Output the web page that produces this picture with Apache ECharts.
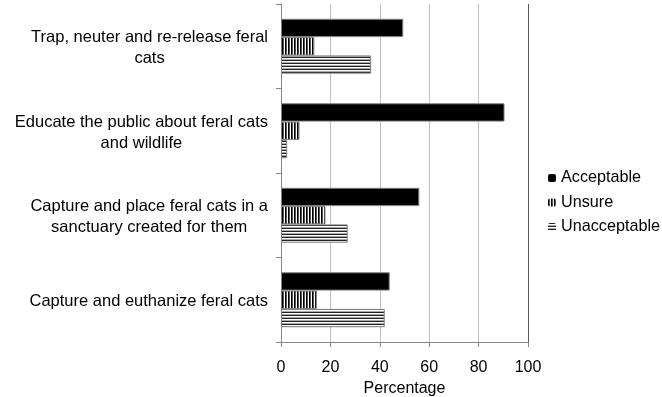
<!DOCTYPE html>
<html>
<head>
<meta charset="utf-8">
<script src="https://cdn.jsdelivr.net/npm/echarts@6/dist/echarts.min.js"></script>
<style>html,body{margin:0;padding:0;background:#fff;}#c{width:662px;height:397px;}</style>
</head>
<body>
<div id="c"></div>
<script>
const categories = [
  'Trap, neuter and re-release feral\ncats',
  'Educate the public about feral cats\nand wildlife',
  'Capture and place feral cats in a\nsanctuary created for them',
  'Capture and euthanize feral cats'
];
const seriesNames = ['Acceptable', 'Unsure', 'Unacceptable'];
const acceptable = [49.5, 90.5, 56, 44];
const unsure = [13.5, 7.5, 18, 14.5];
const unacceptable = [36.5, 2.5, 27, 42];
const xTicks = [0, 20, 40, 60, 80, 100];

const FONT = '"Liberation Sans", Arial, sans-serif';

function makePattern(w, h, draw) {
  const cv = document.createElement('canvas');
  cv.width = w; cv.height = h;
  const ctx = cv.getContext('2d');
  ctx.fillStyle = '#fff'; ctx.fillRect(0, 0, w, h);
  draw(ctx);
  return { image: cv, repeat: 'repeat' };
}
const vStripes = makePattern(3, 3, ctx => {
  ctx.fillStyle = '#000'; ctx.fillRect(0, 0, 1, 3);
  ctx.fillStyle = '#555'; ctx.fillRect(1, 0, 1, 3);
});
const hStripes = makePattern(3, 3, ctx => {
  ctx.fillStyle = '#222'; ctx.fillRect(0, 0, 3, 1);
  ctx.fillStyle = '#aaa'; ctx.fillRect(0, 2, 3, 1);
});

const chart = echarts.init(document.getElementById('c'), null, { renderer: 'canvas' });
const border = { borderColor: '#808080', borderWidth: 1 };
const fills = ['#000', vStripes, hStripes];
const values = [acceptable, unsure, unacceptable];

chart.setOption({
  animation: false,
  textStyle: { fontFamily: FONT },
  grid: { left: 281, right: 134, top: 4, bottom: 55, containLabel: false, outerBoundsMode: 'none' },
  legend: {
    orient: 'vertical', left: 548, top: 170, padding: 0,
    itemWidth: 8, itemHeight: 8, itemGap: 8.5,
    itemStyle: { borderWidth: 0 },
    textStyle: { fontSize: 16.2, color: '#000', fontFamily: FONT },
    data: seriesNames
  },
  xAxis: {
    type: 'value', min: 0, max: 100, interval: 20,
    name: 'Percentage', nameLocation: 'middle', nameGap: 36,
    nameTextStyle: { fontSize: 16, color: '#000', fontFamily: FONT },
    axisLine: { show: true, lineStyle: { color: '#868686', width: 1 } },
    axisTick: { show: true, length: 5, lineStyle: { color: '#868686' } },
    axisLabel: { fontSize: 16, color: '#000', margin: 18, fontFamily: FONT,
      formatter: v => String(v) },
    splitLine: { show: true, lineStyle: { color: ['#c0c0c0','#c0c0c0','#c0c0c0','#c0c0c0','#c0c0c0','#5a5a5a'], width: 1 } }
  },
  yAxis: {
    type: 'category', inverse: true, data: categories,
    axisLine: { show: true, lineStyle: { color: '#868686', width: 1 } },
    axisTick: { show: true, length: 5, lineStyle: { color: '#868686' } },
    axisLabel: {
      fontSize: 16.5, color: '#000', margin: 13, fontFamily: FONT, lineHeight: 21,
      padding: [4, 0, 0, 0],
      formatter: v => v.split('\n').map(l => '{c|' + l + '}').join('\n'),
      rich: { c: { align: 'center', fontSize: 16.5, lineHeight: 21, color: '#000', fontFamily: FONT } }
    },
    splitLine: { show: false }
  },
  series: seriesNames.map((n, i) => ({
    name: n, type: 'bar', data: values[i],
    barGap: '0%', barCategoryGap: '35%',
    itemStyle: Object.assign({ color: fills[i] }, border)
  }))
});
</script>
</body>
</html>
